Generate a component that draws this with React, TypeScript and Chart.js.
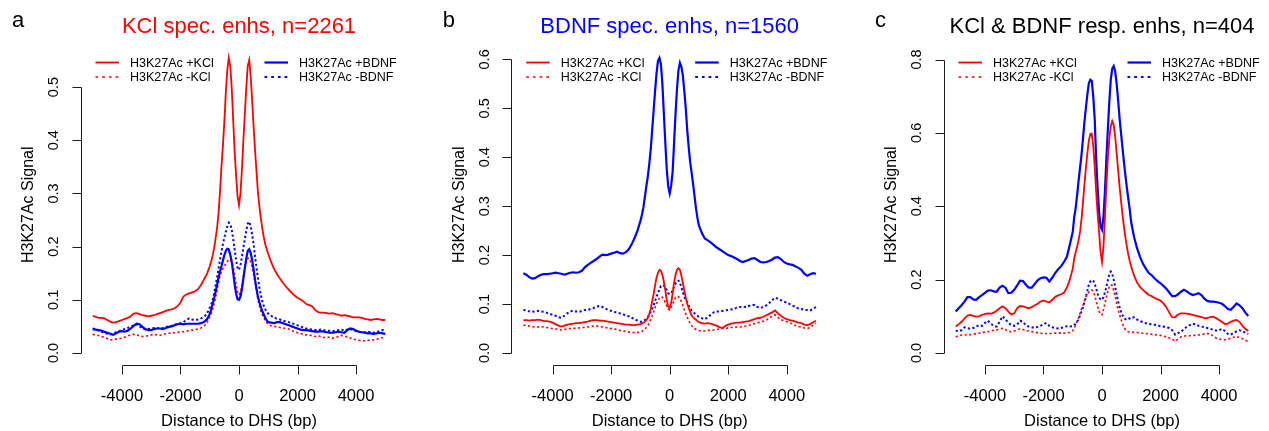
import React, { useEffect, useRef } from "react";
import { Chart, registerables } from "chart.js";

Chart.register(...registerables);

// ---------- data ----------
const X_BP = [
  -5000, -4900, -4800, -4700, -4600, -4500, -4400, -4300, -4200, -4100,
  -4000, -3900, -3800, -3700, -3600, -3500, -3400, -3300, -3200, -3100,
  -3000, -2900, -2800, -2700, -2600, -2500, -2400, -2300, -2200, -2100,
  -2000, -1900, -1800, -1700, -1600, -1500, -1400, -1300, -1200, -1100,
  -1000,
  -950, -900, -850, -800, -750, -700, -650, -600, -550, -500,
  -450, -400, -350, -300, -250, -200, -150, -100, -50, 0,
  50, 100, 150, 200, 250, 300, 350, 400, 450, 500,
  550, 600, 650, 700, 750, 800, 850, 900, 950,
  1000, 1100, 1200, 1300, 1400, 1500, 1600, 1700, 1800, 1900,
  2000, 2100, 2200, 2300, 2400, 2500, 2600, 2700, 2800, 2900,
  3000, 3100, 3200, 3300, 3400, 3500, 3600, 3700, 3800, 3900,
  4000, 4100, 4200, 4300, 4400, 4500, 4600, 4700, 4800, 4900,
  5000,
];

// Panel a: KCl specific enhancers
const A_KCL_P = [
  0.070, 0.068, 0.066, 0.066, 0.065, 0.062, 0.059, 0.057, 0.058, 0.060,
  0.062, 0.064, 0.066, 0.069, 0.074, 0.075, 0.073, 0.071, 0.070, 0.069,
  0.070, 0.071, 0.073, 0.075, 0.077, 0.079, 0.081, 0.082, 0.084, 0.088,
  0.095, 0.106, 0.110, 0.112, 0.114, 0.116, 0.120, 0.128, 0.138, 0.148,
  0.163,
  0.172, 0.183, 0.197, 0.215, 0.235, 0.262, 0.302, 0.350, 0.390, 0.435,
  0.490, 0.532, 0.555, 0.540, 0.500, 0.440, 0.380, 0.335, 0.295, 0.278,
  0.300, 0.345, 0.400, 0.450, 0.500, 0.540, 0.551, 0.520, 0.475, 0.425,
  0.380, 0.340, 0.300, 0.275, 0.252, 0.233, 0.217, 0.204, 0.195,
  0.186, 0.171, 0.158, 0.148, 0.140, 0.132, 0.125, 0.119, 0.113, 0.108,
  0.104, 0.101, 0.097, 0.092, 0.090, 0.088, 0.081, 0.077, 0.076, 0.076,
  0.075, 0.074, 0.075, 0.073, 0.072, 0.070, 0.071, 0.070, 0.069, 0.067,
  0.067, 0.067, 0.066, 0.064, 0.063, 0.062, 0.063, 0.064, 0.063, 0.062,
  0.062,
];
const A_KCL_M = [
  0.035, 0.034, 0.033, 0.031, 0.029, 0.027, 0.025, 0.025, 0.026, 0.027,
  0.028, 0.030, 0.032, 0.034, 0.035, 0.034, 0.032, 0.031, 0.031, 0.033,
  0.034, 0.035, 0.034, 0.033, 0.035, 0.036, 0.037, 0.037, 0.038, 0.039,
  0.040, 0.040, 0.041, 0.042, 0.043, 0.044, 0.045, 0.047, 0.050, 0.056,
  0.068,
  0.074, 0.082, 0.093, 0.104, 0.118, 0.132, 0.145, 0.153, 0.159, 0.163,
  0.168, 0.172, 0.175, 0.176, 0.172, 0.163, 0.148, 0.130, 0.115, 0.109,
  0.115, 0.128, 0.145, 0.160, 0.172, 0.178, 0.178, 0.172, 0.160, 0.147,
  0.132, 0.115, 0.100, 0.088, 0.078, 0.071, 0.066, 0.061, 0.057,
  0.054, 0.051, 0.050, 0.049, 0.048, 0.047, 0.046, 0.045, 0.042, 0.040,
  0.038, 0.037, 0.035, 0.034, 0.034, 0.032, 0.031, 0.032, 0.031, 0.029,
  0.029, 0.030, 0.028, 0.029, 0.031, 0.033, 0.032, 0.030, 0.028, 0.026,
  0.025, 0.024, 0.023, 0.023, 0.024, 0.024, 0.025, 0.026, 0.027, 0.029,
  0.030,
];
const A_BDNF_P = [
  0.045, 0.044, 0.043, 0.042, 0.040, 0.038, 0.036, 0.034, 0.037, 0.040,
  0.041, 0.040, 0.042, 0.046, 0.051, 0.055, 0.054, 0.049, 0.045, 0.043,
  0.043, 0.045, 0.046, 0.046, 0.045, 0.047, 0.049, 0.050, 0.052, 0.054,
  0.055, 0.054, 0.055, 0.055, 0.055, 0.055, 0.055, 0.056, 0.058, 0.063,
  0.073,
  0.082, 0.092, 0.103, 0.115, 0.128, 0.142, 0.153, 0.163, 0.174, 0.184,
  0.192, 0.196, 0.195, 0.185, 0.172, 0.152, 0.130, 0.112, 0.101, 0.100,
  0.106, 0.120, 0.140, 0.160, 0.178, 0.192, 0.195, 0.188, 0.175, 0.157,
  0.137, 0.120, 0.105, 0.095, 0.086, 0.078, 0.072, 0.066, 0.061,
  0.058, 0.057, 0.056, 0.058, 0.058, 0.056, 0.054, 0.052, 0.050, 0.048,
  0.046, 0.044, 0.043, 0.043, 0.042, 0.041, 0.040, 0.040, 0.041, 0.040,
  0.039, 0.038, 0.038, 0.039, 0.040, 0.039, 0.038, 0.043, 0.046, 0.045,
  0.042, 0.040, 0.039, 0.038, 0.037, 0.037, 0.036, 0.037, 0.038, 0.037,
  0.036,
];
const A_BDNF_M = [
  0.046, 0.045, 0.042, 0.040, 0.038, 0.036, 0.035, 0.037, 0.039, 0.041,
  0.043, 0.045, 0.047, 0.050, 0.052, 0.054, 0.050, 0.046, 0.044, 0.045,
  0.046, 0.047, 0.047, 0.046, 0.047, 0.049, 0.050, 0.051, 0.053, 0.055,
  0.056, 0.058, 0.062, 0.065, 0.063, 0.062, 0.063, 0.065, 0.068, 0.073,
  0.085,
  0.092, 0.100, 0.112, 0.127, 0.142, 0.158, 0.175, 0.190, 0.205, 0.217,
  0.228, 0.238, 0.245, 0.243, 0.232, 0.215, 0.195, 0.175, 0.160, 0.156,
  0.165, 0.180, 0.198, 0.215, 0.230, 0.243, 0.247, 0.238, 0.222, 0.205,
  0.180, 0.160, 0.140, 0.122, 0.108, 0.097, 0.088, 0.082, 0.077,
  0.074, 0.070, 0.066, 0.065, 0.063, 0.061, 0.059, 0.058, 0.056, 0.054,
  0.052, 0.050, 0.048, 0.046, 0.045, 0.044, 0.043, 0.043, 0.044, 0.043,
  0.042, 0.042, 0.041, 0.042, 0.043, 0.044, 0.042, 0.044, 0.045, 0.043,
  0.041, 0.040, 0.039, 0.039, 0.040, 0.039, 0.038, 0.039, 0.041, 0.043,
  0.042,
];

// Panel b: BDNF specific enhancers
const B_KCL_P = [
  0.067, 0.067, 0.066, 0.067, 0.067, 0.068, 0.067, 0.065, 0.065, 0.064,
  0.062, 0.059, 0.056, 0.054, 0.056, 0.058, 0.059, 0.060, 0.061, 0.061,
  0.062, 0.063, 0.064, 0.066, 0.067, 0.067, 0.066, 0.066, 0.065, 0.064,
  0.063, 0.062, 0.061, 0.060, 0.059, 0.058, 0.058, 0.057, 0.057, 0.058,
  0.059,
  0.060, 0.062, 0.064, 0.067, 0.072, 0.079, 0.090, 0.105, 0.120, 0.138,
  0.154, 0.164, 0.170, 0.168, 0.160, 0.146, 0.128, 0.108, 0.095, 0.092,
  0.102, 0.122, 0.144, 0.160, 0.170, 0.173, 0.170, 0.158, 0.143, 0.128,
  0.113, 0.100, 0.092, 0.084, 0.077, 0.073, 0.070, 0.068, 0.065,
  0.063, 0.061, 0.060, 0.061, 0.060, 0.058, 0.056, 0.053, 0.051, 0.055,
  0.058, 0.060, 0.061, 0.062, 0.062, 0.063, 0.064, 0.065, 0.067, 0.069,
  0.071, 0.072, 0.074, 0.077, 0.080, 0.083, 0.087, 0.081, 0.076, 0.072,
  0.069, 0.067, 0.066, 0.064, 0.062, 0.061, 0.058, 0.057, 0.059, 0.063,
  0.066,
];
const B_KCL_M = [
  0.057, 0.056, 0.055, 0.054, 0.053, 0.053, 0.054, 0.053, 0.052, 0.051,
  0.050, 0.049, 0.048, 0.047, 0.048, 0.049, 0.050, 0.050, 0.051, 0.051,
  0.052, 0.052, 0.053, 0.054, 0.055, 0.055, 0.054, 0.053, 0.052, 0.051,
  0.050, 0.049, 0.048, 0.046, 0.045, 0.044, 0.043, 0.042, 0.042, 0.042,
  0.043,
  0.044, 0.046, 0.049, 0.052, 0.056, 0.061, 0.068, 0.076, 0.084, 0.093,
  0.101, 0.107, 0.112, 0.115, 0.114, 0.110, 0.103, 0.096, 0.090, 0.088,
  0.093, 0.100, 0.107, 0.113, 0.116, 0.115, 0.111, 0.105, 0.097, 0.088,
  0.080, 0.073, 0.066, 0.060, 0.056, 0.053, 0.050, 0.048, 0.047,
  0.046, 0.045, 0.045, 0.046, 0.047, 0.047, 0.048, 0.049, 0.050, 0.050,
  0.051, 0.052, 0.052, 0.053, 0.053, 0.054, 0.055, 0.056, 0.058, 0.060,
  0.062, 0.063, 0.065, 0.067, 0.071, 0.075, 0.078, 0.073, 0.068, 0.066,
  0.064, 0.062, 0.059, 0.056, 0.054, 0.053, 0.051, 0.050, 0.052, 0.057,
  0.061,
];
const B_BDNF_P = [
  0.163, 0.160, 0.155, 0.152, 0.153, 0.157, 0.160, 0.161, 0.161, 0.162,
  0.163, 0.164, 0.163, 0.162, 0.160, 0.162, 0.164, 0.165, 0.164, 0.165,
  0.168, 0.175, 0.180, 0.184, 0.188, 0.192, 0.197, 0.201, 0.200, 0.201,
  0.203, 0.205, 0.207, 0.204, 0.203, 0.206, 0.212, 0.222, 0.235, 0.250,
  0.270,
  0.282, 0.297, 0.318, 0.340, 0.360, 0.385, 0.415, 0.455, 0.495, 0.535,
  0.572, 0.597, 0.603, 0.590, 0.550, 0.490, 0.430, 0.375, 0.340, 0.326,
  0.342, 0.370, 0.430, 0.490, 0.540, 0.578, 0.593, 0.585, 0.567, 0.535,
  0.500, 0.455, 0.420, 0.390, 0.368, 0.345, 0.320, 0.295, 0.275,
  0.260, 0.245, 0.234, 0.230, 0.226, 0.221, 0.216, 0.212, 0.208, 0.204,
  0.200, 0.198, 0.195, 0.192, 0.188, 0.186, 0.188, 0.190, 0.193, 0.194,
  0.190, 0.186, 0.185, 0.186, 0.188, 0.191, 0.195, 0.196, 0.192, 0.186,
  0.183, 0.181, 0.180, 0.177, 0.174, 0.170, 0.162, 0.158, 0.161, 0.163,
  0.162,
];
const B_BDNF_M = [
  0.088, 0.087, 0.085, 0.084, 0.085, 0.086, 0.085, 0.084, 0.082, 0.080,
  0.078, 0.076, 0.073, 0.072, 0.076, 0.081, 0.085, 0.086, 0.085, 0.084,
  0.086, 0.088, 0.088, 0.090, 0.092, 0.095, 0.096, 0.094, 0.091, 0.088,
  0.086, 0.084, 0.083, 0.081, 0.079, 0.077, 0.075, 0.072, 0.069, 0.066,
  0.064,
  0.064, 0.065, 0.067, 0.070, 0.073, 0.078, 0.084, 0.090, 0.097, 0.106,
  0.115, 0.122, 0.130, 0.137, 0.139, 0.138, 0.135, 0.128, 0.122, 0.120,
  0.122, 0.128, 0.135, 0.142, 0.147, 0.148, 0.144, 0.134, 0.124, 0.115,
  0.108, 0.104, 0.097, 0.091, 0.087, 0.084, 0.081, 0.078, 0.076,
  0.074, 0.071, 0.069, 0.073, 0.078, 0.083, 0.085, 0.085, 0.086, 0.087,
  0.088, 0.089, 0.090, 0.093, 0.094, 0.095, 0.094, 0.096, 0.098, 0.098,
  0.094, 0.092, 0.094, 0.097, 0.102, 0.108, 0.113, 0.111, 0.108, 0.105,
  0.103, 0.100, 0.097, 0.094, 0.091, 0.090, 0.088, 0.088, 0.087, 0.090,
  0.094,
];

// Panel c: KCl & BDNF responsive enhancers
const C_KCL_P = [
  0.072, 0.078, 0.085, 0.094, 0.102, 0.104, 0.101, 0.099, 0.100, 0.104,
  0.106, 0.108, 0.107, 0.110, 0.115, 0.122, 0.127, 0.122, 0.113, 0.105,
  0.108, 0.122, 0.128, 0.127, 0.124, 0.122, 0.125, 0.130, 0.134, 0.140,
  0.143, 0.140, 0.138, 0.145, 0.153, 0.157, 0.160, 0.164, 0.178, 0.200,
  0.230,
  0.258, 0.275, 0.290, 0.308, 0.330, 0.365, 0.410, 0.460, 0.505, 0.545,
  0.578, 0.597, 0.598, 0.565, 0.510, 0.440, 0.380, 0.330, 0.275, 0.249,
  0.290, 0.370, 0.455, 0.530, 0.585, 0.618, 0.632, 0.622, 0.590, 0.545,
  0.500, 0.455, 0.415, 0.378, 0.345, 0.315, 0.290, 0.268, 0.250,
  0.235, 0.210, 0.192, 0.180, 0.172, 0.165, 0.158, 0.155, 0.150, 0.146,
  0.143, 0.135, 0.125, 0.110, 0.097, 0.098, 0.105, 0.108, 0.108, 0.107,
  0.106, 0.104, 0.102, 0.100, 0.098, 0.095, 0.095, 0.098, 0.099, 0.095,
  0.090, 0.085, 0.079, 0.080, 0.085, 0.088, 0.090, 0.085, 0.074, 0.066,
  0.060,
];
const C_KCL_M = [
  0.044, 0.046, 0.049, 0.049, 0.050, 0.050, 0.051, 0.053, 0.054, 0.055,
  0.057, 0.058, 0.060, 0.062, 0.063, 0.065, 0.067, 0.064, 0.059, 0.058,
  0.060, 0.063, 0.066, 0.064, 0.061, 0.060, 0.058, 0.057, 0.055, 0.054,
  0.053, 0.053, 0.053, 0.053, 0.054, 0.054, 0.054, 0.054, 0.055, 0.056,
  0.061,
  0.067, 0.077, 0.087, 0.096, 0.108, 0.120, 0.130, 0.142, 0.153, 0.161,
  0.166, 0.170, 0.172, 0.168, 0.157, 0.143, 0.128, 0.114, 0.105, 0.104,
  0.118, 0.135, 0.152, 0.168, 0.180, 0.186, 0.184, 0.170, 0.155, 0.135,
  0.118, 0.105, 0.092, 0.080, 0.070, 0.064, 0.060, 0.058, 0.057,
  0.057, 0.056, 0.056, 0.055, 0.054, 0.053, 0.052, 0.051, 0.050, 0.049,
  0.048, 0.046, 0.044, 0.041, 0.038, 0.032, 0.038, 0.044, 0.046, 0.047,
  0.047, 0.048, 0.048, 0.049, 0.050, 0.052, 0.053, 0.052, 0.046, 0.041,
  0.038, 0.037, 0.036, 0.038, 0.040, 0.043, 0.045, 0.042, 0.039, 0.035,
  0.031,
];
const C_BDNF_P = [
  0.113, 0.122, 0.130, 0.140, 0.152, 0.152, 0.146, 0.145, 0.152, 0.158,
  0.164, 0.170, 0.171, 0.168, 0.167, 0.178, 0.183, 0.178, 0.163, 0.164,
  0.172, 0.184, 0.197, 0.196, 0.186, 0.178, 0.178, 0.188, 0.198, 0.204,
  0.206, 0.205, 0.195, 0.205, 0.218, 0.228, 0.236, 0.248, 0.262, 0.295,
  0.330,
  0.370, 0.395, 0.430, 0.470, 0.505, 0.540, 0.585, 0.630, 0.668, 0.705,
  0.735, 0.745, 0.742, 0.700, 0.640, 0.530, 0.450, 0.385, 0.345, 0.336,
  0.370, 0.440, 0.530, 0.610, 0.685, 0.745, 0.775, 0.782, 0.768, 0.735,
  0.690, 0.640, 0.600, 0.560, 0.520, 0.485, 0.450, 0.420, 0.390,
  0.355, 0.315, 0.285, 0.262, 0.243, 0.230, 0.218, 0.212, 0.203, 0.196,
  0.190, 0.183, 0.175, 0.165, 0.155, 0.155, 0.160, 0.167, 0.172, 0.168,
  0.162, 0.158, 0.160, 0.163, 0.158, 0.148, 0.142, 0.140, 0.140, 0.139,
  0.137, 0.134, 0.128, 0.120, 0.118, 0.126, 0.135, 0.130, 0.122, 0.110,
  0.101,
];
const C_BDNF_M = [
  0.061, 0.059, 0.062, 0.070, 0.068, 0.066, 0.068, 0.072, 0.076, 0.074,
  0.082, 0.088, 0.080, 0.074, 0.072, 0.085, 0.100, 0.092, 0.082, 0.076,
  0.074, 0.078, 0.088, 0.085, 0.075, 0.072, 0.070, 0.068, 0.071, 0.074,
  0.078, 0.082, 0.074, 0.070, 0.068, 0.067, 0.068, 0.071, 0.073, 0.072,
  0.073,
  0.076, 0.080, 0.085, 0.093, 0.102, 0.113, 0.125, 0.138, 0.153, 0.170,
  0.186, 0.195, 0.199, 0.197, 0.188, 0.176, 0.162, 0.151, 0.146, 0.145,
  0.152, 0.165, 0.180, 0.198, 0.216, 0.222, 0.216, 0.200, 0.180, 0.160,
  0.140, 0.125, 0.113, 0.103, 0.096, 0.092, 0.090, 0.092, 0.095,
  0.098, 0.097, 0.091, 0.087, 0.084, 0.081, 0.079, 0.078, 0.077, 0.075,
  0.073, 0.072, 0.070, 0.068, 0.062, 0.050, 0.054, 0.058, 0.065, 0.072,
  0.076, 0.080, 0.078, 0.074, 0.072, 0.070, 0.068, 0.066, 0.063, 0.061,
  0.062, 0.066, 0.060, 0.052, 0.050, 0.055, 0.059, 0.062, 0.060, 0.055,
  0.052,
];

const X_TICKS = [-4000, -2000, 0, 2000, 4000];
const X_TICK_LABELS = ["-4000", "-2000", "0", "2000", "4000"];
const A_Y_TICKS = [0, 0.1, 0.2, 0.3, 0.4, 0.5];
const A_Y_LABELS = ["0.0", "0.1", "0.2", "0.3", "0.4", "0.5"];
const B_Y_TICKS = [0, 0.1, 0.2, 0.3, 0.4, 0.5, 0.6];
const B_Y_LABELS = ["0.0", "0.1", "0.2", "0.3", "0.4", "0.5", "0.6"];
const C_Y_TICKS = [0, 0.2, 0.4, 0.6, 0.8];
const C_Y_LABELS = ["0.0", "0.2", "0.4", "0.6", "0.8"];
const LEGEND_LABELS = ["H3K27Ac +KCl", "H3K27Ac -KCl", "H3K27Ac +BDNF", "H3K27Ac -BDNF"];
const X_TITLE = "Distance to DHS (bp)";
const Y_TITLE = "H3K27Ac Signal";

// ---------- styling ----------
const RED = "#FF0000";
const BLUE = "#0000FF";
const FONT = '"Liberation Sans", Arial, Helvetica, sans-serif';
const DOT_LEGEND = [2.7, 4];
const DOT_LINE = [2.2, 2.4];
const CANVAS_W = 423;
const CANVAS_H = 431;
const PLOT_TOP = 40.5;
const PLOT_BOTTOM = 365;

interface PanelSpec {
  letter: string;
  title: string;
  titleColor: string;
  kclP: number[];
  kclM: number[];
  bdnfP: number[];
  bdnfM: number[];
  yTicks: number[];
  yLabels: string[];
  yMin: number;
  yMax: number;
  canvasLeft: number;
  plotLeft: number;
  plotRight: number;
}

const PANELS: PanelSpec[] = [
  {
    letter: "a", title: "KCl spec. enhs, n=2261", titleColor: RED,
    kclP: A_KCL_P, kclM: A_KCL_M, bdnfP: A_BDNF_P, bdnfM: A_BDNF_M,
    yTicks: A_Y_TICKS, yLabels: A_Y_LABELS, yMin: -0.0226, yMax: 0.5876,
    canvasLeft: 0, plotLeft: 81, plotRight: 397,
  },
  {
    letter: "b", title: "BDNF spec. enhs, n=1560", titleColor: BLUE,
    kclP: B_KCL_P, kclM: B_KCL_M, bdnfP: B_BDNF_P, bdnfM: B_BDNF_M,
    yTicks: B_Y_TICKS, yLabels: B_Y_LABELS, yMin: -0.02456, yMax: 0.6386,
    canvasLeft: 423, plotLeft: 511.7, plotRight: 827.7,
  },
  {
    letter: "c", title: "KCl & BDNF resp. enhs, n=404", titleColor: "#000000",
    kclP: C_KCL_P, kclM: C_KCL_M, bdnfP: C_BDNF_P, bdnfM: C_BDNF_M,
    yTicks: C_Y_TICKS, yLabels: C_Y_LABELS, yMin: -0.03276, yMax: 0.8518,
    canvasLeft: 846, plotLeft: 944, plotRight: 1260,
  },
];

function makeDecor(p: PanelSpec) {
  return {
    id: "decor",
    afterDraw(chart: any) {
      const ctx: CanvasRenderingContext2D = chart.ctx;
      const area = chart.chartArea;
      const xs = chart.scales.x;
      const ys = chart.scales.y;
      ctx.save();
      ctx.setLineDash([]);
      ctx.strokeStyle = "#1a1a1a";
      ctx.lineWidth = 1;

      // y axis
      const ax = Math.floor(area.left) + 0.5;
      const yTop = Math.round(ys.getPixelForValue(p.yTicks[p.yTicks.length - 1])) + 0.5;
      const yBot = Math.round(ys.getPixelForValue(p.yTicks[0])) + 0.5;
      ctx.beginPath();
      ctx.moveTo(ax, yBot);
      ctx.lineTo(ax, yTop);
      p.yTicks.forEach((t) => {
        const ty = Math.round(ys.getPixelForValue(t)) + 0.5;
        ctx.moveTo(ax, ty);
        ctx.lineTo(ax - 9, ty);
      });
      ctx.stroke();

      // x axis
      const ay = Math.floor(area.bottom) + 0.5;
      const xl = Math.round(xs.getPixelForValue(X_TICKS[0])) + 0.5;
      const xr = Math.round(xs.getPixelForValue(X_TICKS[X_TICKS.length - 1])) + 0.5;
      ctx.beginPath();
      ctx.moveTo(xl, ay);
      ctx.lineTo(xr, ay);
      X_TICKS.forEach((t) => {
        const tx = Math.round(xs.getPixelForValue(t)) + 0.5;
        ctx.moveTo(tx, ay);
        ctx.lineTo(tx, ay + 9);
      });
      ctx.stroke();

      ctx.fillStyle = "#000";
      ctx.textBaseline = "alphabetic";

      // x tick labels
      ctx.font = `16.5px ${FONT}`;
      ctx.textAlign = "center";
      X_TICKS.forEach((t, i) => {
        ctx.fillText(X_TICK_LABELS[i], xs.getPixelForValue(t), 400.5);
      });

      // x title
      ctx.fillText(X_TITLE, (area.left + area.right) / 2, 426);

      // y tick labels (rotated)
      ctx.font = `14.5px ${FONT}`;
      p.yTicks.forEach((t, i) => {
        ctx.save();
        ctx.translate(area.left - 28, ys.getPixelForValue(t));
        ctx.rotate(-Math.PI / 2);
        ctx.textAlign = "center";
        ctx.fillText(p.yLabels[i], 0, 5.2);
        ctx.restore();
      });

      // y title
      ctx.save();
      ctx.font = `16px ${FONT}`;
      ctx.translate(area.left - 54, (area.top + area.bottom) / 2 + 2);
      ctx.rotate(-Math.PI / 2);
      ctx.textAlign = "center";
      ctx.fillText(Y_TITLE, 0, 5.8);
      ctx.restore();

      // panel letter
      ctx.font = `22px ${FONT}`;
      ctx.textAlign = "left";
      ctx.fillText(p.letter, area.left - 69, 27);

      // title
      ctx.fillStyle = p.titleColor;
      ctx.textAlign = "center";
      ctx.fillText(p.title, (area.left + area.right) / 2, 33);

      // legend
      const rows = [62.5, 77];
      const base = [66.9, 81.4];
      const items = [
        { col: 0, row: 0, color: RED, dash: [] as number[], w: 1.8, label: LEGEND_LABELS[0] },
        { col: 0, row: 1, color: RED, dash: DOT_LEGEND, w: 1.6, label: LEGEND_LABELS[1] },
        { col: 1, row: 0, color: BLUE, dash: [] as number[], w: 2.2, label: LEGEND_LABELS[2] },
        { col: 1, row: 1, color: BLUE, dash: DOT_LEGEND, w: 2.0, label: LEGEND_LABELS[3] },
      ];
      const colLine = [14.5, 183.5];
      const colText = [49, 218];
      ctx.font = `12.5px ${FONT}`;
      ctx.textAlign = "left";
      items.forEach((it) => {
        const lx = area.left + colLine[it.col];
        ctx.beginPath();
        ctx.setLineDash(it.dash);
        ctx.lineCap = "butt";
        ctx.strokeStyle = it.color;
        ctx.lineWidth = it.w;
        ctx.moveTo(lx, rows[it.row]);
        ctx.lineTo(lx + 23.5, rows[it.row]);
        ctx.stroke();
        ctx.setLineDash([]);
        ctx.fillStyle = "#000";
        ctx.fillText(it.label, area.left + colText[it.col], base[it.row]);
      });

      ctx.restore();
    },
  };
}

function pts(series: number[]) {
  return X_BP.map((x, i) => ({ x, y: series[i] }));
}

function Panel({ p }: { p: PanelSpec }) {
  const ref = useRef<HTMLCanvasElement | null>(null);
  useEffect(() => {
    const canvas = ref.current;
    if (!canvas) return;
    const localLeft = p.plotLeft - p.canvasLeft;
    const localRightPad = p.canvasLeft + CANVAS_W - p.plotRight;
    const chart = new Chart(canvas, {
      type: "line",
      data: {
        datasets: [
          { label: LEGEND_LABELS[0], data: pts(p.kclP), borderColor: RED, borderWidth: 1.8, pointRadius: 0, tension: 0, fill: false },
          { label: LEGEND_LABELS[2], data: pts(p.bdnfP), borderColor: BLUE, borderWidth: 2.2, pointRadius: 0, tension: 0, fill: false },
          { label: LEGEND_LABELS[1], data: pts(p.kclM), borderColor: RED, borderWidth: 1.6, borderDash: DOT_LINE, borderCapStyle: "butt", pointRadius: 0, tension: 0, fill: false },
          { label: LEGEND_LABELS[3], data: pts(p.bdnfM), borderColor: BLUE, borderWidth: 2.0, borderDash: DOT_LINE, borderCapStyle: "butt", pointRadius: 0, tension: 0, fill: false },
        ],
      },
      options: {
        animation: false,
        responsive: false,
        maintainAspectRatio: false,
        devicePixelRatio: 1,
        events: [],
        layout: {
          autoPadding: false,
          padding: { left: localLeft, right: localRightPad, top: PLOT_TOP, bottom: CANVAS_H - PLOT_BOTTOM },
        },
        scales: {
          x: { type: "linear", min: -5400, max: 5400, display: false },
          y: { type: "linear", min: p.yMin, max: p.yMax, display: false },
        },
        plugins: {
          legend: { display: false },
          title: { display: false },
          tooltip: { enabled: false },
        },
      } as any,
      plugins: [makeDecor(p)],
    });
    return () => chart.destroy();
  }, [p]);
  return (
    <canvas
      ref={ref}
      width={CANVAS_W}
      height={CANVAS_H}
      style={{ position: "absolute", left: p.canvasLeft, top: 0, width: CANVAS_W, height: CANVAS_H }}
    />
  );
}

export default function App() {
  return (
    <div style={{ position: "absolute", left: 0, top: 0, width: 1269, height: 431, background: "#fff" }}>
      {PANELS.map((p) => (
        <Panel key={p.letter} p={p} />
      ))}
    </div>
  );
}
